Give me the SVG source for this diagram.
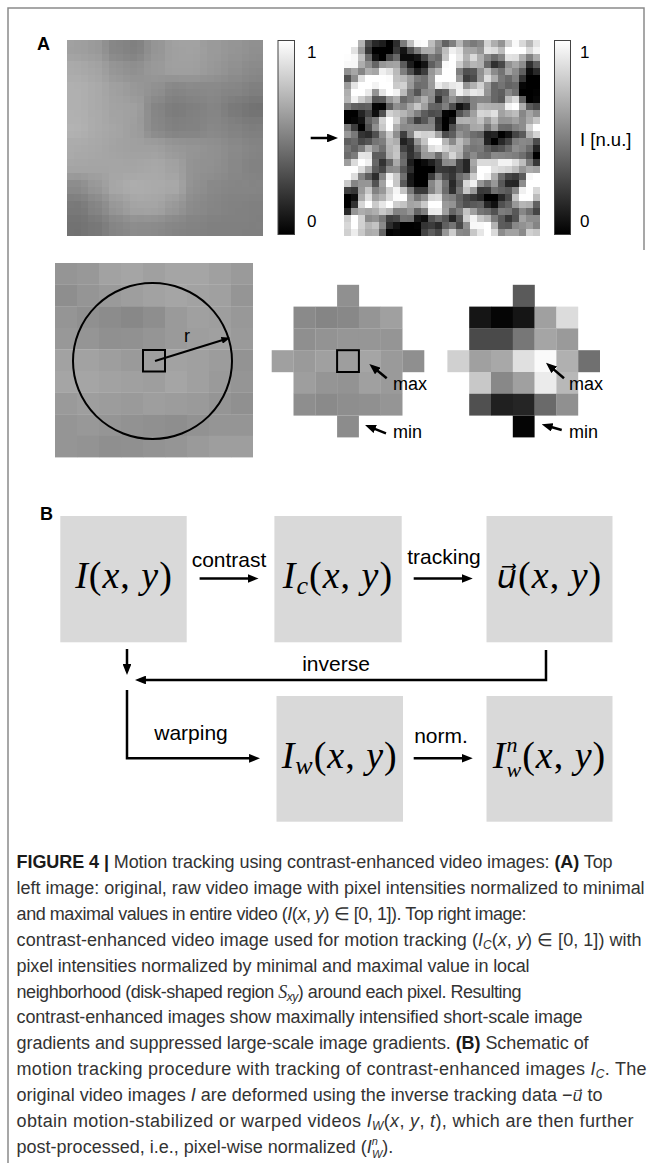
<svg xmlns="http://www.w3.org/2000/svg" width="652" height="1163" viewBox="0 0 652 1163">
<style>
.sans{font-family:"Liberation Sans",Arial,sans-serif;fill:#000}
.pl{font-weight:bold;font-size:18px}
.tick{font-size:17px}
.ann{font-size:18px}
.edge{font-size:21px}
.m{font-family:"Liberation Serif","Times New Roman",serif;font-size:38px;letter-spacing:1px;fill:#000}
.i{font-style:italic}
.box{fill:#d9d9d9}
.ln{fill:none;stroke:#000;stroke-width:2.5}
.thin{fill:none;stroke:#000;stroke-width:2}
.cap{font-family:"Liberation Sans",Arial,sans-serif;font-size:18px;fill:#333}
.b{font-weight:bold;fill:#1a1a1a}
.cb{stroke:#444;stroke-width:1}
.frame{stroke:#8a8a8a;stroke-width:1.5;fill:none}
</style>
<defs>
<linearGradient id="gbar" x1="0" y1="0" x2="0" y2="1">
<stop offset="0" stop-color="#fff"/><stop offset="1" stop-color="#000"/>
</linearGradient>
<marker id="ah" viewBox="0 0 10 8" refX="6" refY="4" markerWidth="4.4" markerHeight="3.5" orient="auto" markerUnits="strokeWidth">
<path d="M0,0 L10,4 L0,8 z" fill="#000"/>
</marker>
<filter id="pxL" x="0" y="0" width="196" height="196" filterUnits="userSpaceOnUse" color-interpolation-filters="sRGB">
<feGaussianBlur in="SourceGraphic" stdDeviation="5" result="b"/>
<feComponentTransfer in="b" result="c"><feFuncA type="linear" slope="0" intercept="1"/></feComponentTransfer>
<feFlood x="3" y="3" width="1" height="1" flood-color="#000"/>
<feComposite width="7" height="7"/>
<feTile result="t"/>
<feComposite in="c" in2="t" operator="in"/>
<feMorphology operator="dilate" radius="3"/>
</filter>
<filter id="pxR" x="0" y="0" width="196" height="196" filterUnits="userSpaceOnUse" color-interpolation-filters="sRGB">
<feTurbulence type="fractalNoise" baseFrequency="0.034" numOctaves="2" seed="11"/>
<feColorMatrix type="matrix" values="2.6 0 0 0 -0.78  2.6 0 0 0 -0.78  2.6 0 0 0 -0.78  0 0 0 0 1" result="c"/>
<feFlood x="3" y="3" width="1" height="1" flood-color="#000"/>
<feComposite width="7" height="7"/>
<feTile result="t"/>
<feComposite in="c" in2="t" operator="in"/>
<feMorphology operator="dilate" radius="3"/>
</filter>
</defs>
<rect width="652" height="1163" fill="#fff"/>
<path class="frame" d="M8,1163 V8 H644 V250"/>

<g id="panelA-label"><text class="sans pl" x="37" y="50">A</text></g>

<g id="raw-image" transform="translate(67,40)">
<g filter="url(#pxL)">
<g><rect x="0" y="0" width="20" height="20" fill="#a0a0a0"/><rect x="19.6" y="0" width="20" height="20" fill="#9a9a9a"/><rect x="39.2" y="0" width="20" height="20" fill="#858585"/><rect x="58.8" y="0" width="20" height="20" fill="#808080"/><rect x="78.4" y="0" width="20" height="20" fill="#959595"/><rect x="98" y="0" width="20" height="20" fill="#a0a0a0"/><rect x="117.6" y="0" width="20" height="20" fill="#a2a2a2"/><rect x="137.2" y="0" width="20" height="20" fill="#9a9a9a"/><rect x="156.8" y="0" width="20" height="20" fill="#959595"/><rect x="176.4" y="0" width="20" height="20" fill="#909090"/></g>
<g><rect x="0" y="19.6" width="20" height="20" fill="#aaaaaa"/><rect x="19.6" y="19.6" width="20" height="20" fill="#a5a5a5"/><rect x="39.2" y="19.6" width="20" height="20" fill="#959595"/><rect x="58.8" y="19.6" width="20" height="20" fill="#909090"/><rect x="78.4" y="19.6" width="20" height="20" fill="#9a9a9a"/><rect x="98" y="19.6" width="20" height="20" fill="#a0a0a0"/><rect x="117.6" y="19.6" width="20" height="20" fill="#a0a0a0"/><rect x="137.2" y="19.6" width="20" height="20" fill="#989898"/><rect x="156.8" y="19.6" width="20" height="20" fill="#909090"/><rect x="176.4" y="19.6" width="20" height="20" fill="#8a8a8a"/></g>
<g><rect x="0" y="39.2" width="20" height="20" fill="#b0b0b0"/><rect x="19.6" y="39.2" width="20" height="20" fill="#aaaaaa"/><rect x="39.2" y="39.2" width="20" height="20" fill="#a0a0a0"/><rect x="58.8" y="39.2" width="20" height="20" fill="#989898"/><rect x="78.4" y="39.2" width="20" height="20" fill="#909090"/><rect x="98" y="39.2" width="20" height="20" fill="#858585"/><rect x="117.6" y="39.2" width="20" height="20" fill="#888888"/><rect x="137.2" y="39.2" width="20" height="20" fill="#888888"/><rect x="156.8" y="39.2" width="20" height="20" fill="#858585"/><rect x="176.4" y="39.2" width="20" height="20" fill="#808080"/></g>
<g><rect x="0" y="58.8" width="20" height="20" fill="#b0b0b0"/><rect x="19.6" y="58.8" width="20" height="20" fill="#aaaaaa"/><rect x="39.2" y="58.8" width="20" height="20" fill="#a2a2a2"/><rect x="58.8" y="58.8" width="20" height="20" fill="#a0a0a0"/><rect x="78.4" y="58.8" width="20" height="20" fill="#858585"/><rect x="98" y="58.8" width="20" height="20" fill="#7c7c7c"/><rect x="117.6" y="58.8" width="20" height="20" fill="#808080"/><rect x="137.2" y="58.8" width="20" height="20" fill="#858585"/><rect x="156.8" y="58.8" width="20" height="20" fill="#7a7a7a"/><rect x="176.4" y="58.8" width="20" height="20" fill="#727272"/></g>
<g><rect x="0" y="78.4" width="20" height="20" fill="#b2b2b2"/><rect x="19.6" y="78.4" width="20" height="20" fill="#ababab"/><rect x="39.2" y="78.4" width="20" height="20" fill="#a5a5a5"/><rect x="58.8" y="78.4" width="20" height="20" fill="#9e9e9e"/><rect x="78.4" y="78.4" width="20" height="20" fill="#888888"/><rect x="98" y="78.4" width="20" height="20" fill="#808080"/><rect x="117.6" y="78.4" width="20" height="20" fill="#828282"/><rect x="137.2" y="78.4" width="20" height="20" fill="#888888"/><rect x="156.8" y="78.4" width="20" height="20" fill="#828282"/><rect x="176.4" y="78.4" width="20" height="20" fill="#7e7e7e"/></g>
<g><rect x="0" y="98" width="20" height="20" fill="#aaaaaa"/><rect x="19.6" y="98" width="20" height="20" fill="#a8a8a8"/><rect x="39.2" y="98" width="20" height="20" fill="#a2a2a2"/><rect x="58.8" y="98" width="20" height="20" fill="#a0a0a0"/><rect x="78.4" y="98" width="20" height="20" fill="#a0a0a0"/><rect x="98" y="98" width="20" height="20" fill="#989898"/><rect x="117.6" y="98" width="20" height="20" fill="#959595"/><rect x="137.2" y="98" width="20" height="20" fill="#909090"/><rect x="156.8" y="98" width="20" height="20" fill="#8a8a8a"/><rect x="176.4" y="98" width="20" height="20" fill="#858585"/></g>
<g><rect x="0" y="117.6" width="20" height="20" fill="#a5a5a5"/><rect x="19.6" y="117.6" width="20" height="20" fill="#a5a5a5"/><rect x="39.2" y="117.6" width="20" height="20" fill="#a5a5a5"/><rect x="58.8" y="117.6" width="20" height="20" fill="#a5a5a5"/><rect x="78.4" y="117.6" width="20" height="20" fill="#a8a8a8"/><rect x="98" y="117.6" width="20" height="20" fill="#a2a2a2"/><rect x="117.6" y="117.6" width="20" height="20" fill="#929292"/><rect x="137.2" y="117.6" width="20" height="20" fill="#909090"/><rect x="156.8" y="117.6" width="20" height="20" fill="#888888"/><rect x="176.4" y="117.6" width="20" height="20" fill="#828282"/></g>
<g><rect x="0" y="137.2" width="20" height="20" fill="#8a8a8a"/><rect x="19.6" y="137.2" width="20" height="20" fill="#989898"/><rect x="39.2" y="137.2" width="20" height="20" fill="#a8a8a8"/><rect x="58.8" y="137.2" width="20" height="20" fill="#adadad"/><rect x="78.4" y="137.2" width="20" height="20" fill="#aaaaaa"/><rect x="98" y="137.2" width="20" height="20" fill="#a8a8a8"/><rect x="117.6" y="137.2" width="20" height="20" fill="#909090"/><rect x="137.2" y="137.2" width="20" height="20" fill="#888888"/><rect x="156.8" y="137.2" width="20" height="20" fill="#858585"/><rect x="176.4" y="137.2" width="20" height="20" fill="#858585"/></g>
<g><rect x="0" y="156.8" width="20" height="20" fill="#787878"/><rect x="19.6" y="156.8" width="20" height="20" fill="#858585"/><rect x="39.2" y="156.8" width="20" height="20" fill="#989898"/><rect x="58.8" y="156.8" width="20" height="20" fill="#a5a5a5"/><rect x="78.4" y="156.8" width="20" height="20" fill="#a5a5a5"/><rect x="98" y="156.8" width="20" height="20" fill="#989898"/><rect x="117.6" y="156.8" width="20" height="20" fill="#8a8a8a"/><rect x="137.2" y="156.8" width="20" height="20" fill="#858585"/><rect x="156.8" y="156.8" width="20" height="20" fill="#828282"/><rect x="176.4" y="156.8" width="20" height="20" fill="#808080"/></g>
<g><rect x="0" y="176.4" width="20" height="20" fill="#727272"/><rect x="19.6" y="176.4" width="20" height="20" fill="#787878"/><rect x="39.2" y="176.4" width="20" height="20" fill="#858585"/><rect x="58.8" y="176.4" width="20" height="20" fill="#8c8c8c"/><rect x="78.4" y="176.4" width="20" height="20" fill="#8a8a8a"/><rect x="98" y="176.4" width="20" height="20" fill="#858585"/><rect x="117.6" y="176.4" width="20" height="20" fill="#828282"/><rect x="137.2" y="176.4" width="20" height="20" fill="#808080"/><rect x="156.8" y="176.4" width="20" height="20" fill="#808080"/><rect x="176.4" y="176.4" width="20" height="20" fill="#808080"/></g>
</g>
</g>

<g id="colorbar-left">
<rect class="cb" x="278" y="40.5" width="16.5" height="194" fill="url(#gbar)"/>
<text class="sans tick" x="307" y="58">1</text>
<text class="sans tick" x="307" y="227">0</text>
</g>

<g id="contrast-arrow">
<path class="ln" d="M310.7,138 H333.6" marker-end="url(#ah)"/>
</g>

<g id="enhanced-image" transform="translate(344,40)">
<rect x="0" y="0" width="196" height="196" fill="#888" filter="url(#pxR)"/>
</g>

<g id="colorbar-right">
<rect class="cb" x="554.5" y="40.5" width="16" height="194" fill="url(#gbar)"/>
<text class="sans tick" x="580" y="58">1</text>
<text class="sans tick" x="580" y="227">0</text>
<text class="sans" font-size="18.5" x="580" y="146">I [n.u.]</text>
</g>

<g id="disk-grid">
<g>
<rect x="55" y="263" width="22.2" height="21.8" fill="#959595"/><rect x="77" y="263" width="22.2" height="21.8" fill="#989898"/><rect x="99" y="263" width="22.2" height="21.8" fill="#a2a2a2"/><rect x="121" y="263" width="22.2" height="21.8" fill="#a5a5a5"/><rect x="143" y="263" width="22.2" height="21.8" fill="#a0a0a0"/><rect x="165" y="263" width="22.2" height="21.8" fill="#a5a5a5"/><rect x="187" y="263" width="22.2" height="21.8" fill="#a5a5a5"/><rect x="209" y="263" width="22.2" height="21.8" fill="#a0a0a0"/><rect x="231" y="263" width="22" height="21.8" fill="#9a9a9a"/>
<rect x="55" y="284.6" width="22.2" height="21.8" fill="#8e8e8e"/><rect x="77" y="284.6" width="22.2" height="21.8" fill="#959595"/><rect x="99" y="284.6" width="22.2" height="21.8" fill="#9a9a9a"/><rect x="121" y="284.6" width="22.2" height="21.8" fill="#9e9e9e"/><rect x="143" y="284.6" width="22.2" height="21.8" fill="#a2a2a2"/><rect x="165" y="284.6" width="22.2" height="21.8" fill="#a5a5a5"/><rect x="187" y="284.6" width="22.2" height="21.8" fill="#a2a2a2"/><rect x="209" y="284.6" width="22.2" height="21.8" fill="#a0a0a0"/><rect x="231" y="284.6" width="22" height="21.8" fill="#959595"/>
<rect x="55" y="306.2" width="22.2" height="21.8" fill="#959595"/><rect x="77" y="306.2" width="22.2" height="21.8" fill="#909090"/><rect x="99" y="306.2" width="22.2" height="21.8" fill="#8c8c8c"/><rect x="121" y="306.2" width="22.2" height="21.8" fill="#888888"/><rect x="143" y="306.2" width="22.2" height="21.8" fill="#8e8e8e"/><rect x="165" y="306.2" width="22.2" height="21.8" fill="#9a9a9a"/><rect x="187" y="306.2" width="22.2" height="21.8" fill="#a0a0a0"/><rect x="209" y="306.2" width="22.2" height="21.8" fill="#9e9e9e"/><rect x="231" y="306.2" width="22" height="21.8" fill="#989898"/>
<rect x="55" y="327.8" width="22.2" height="21.8" fill="#989898"/><rect x="77" y="327.8" width="22.2" height="21.8" fill="#959595"/><rect x="99" y="327.8" width="22.2" height="21.8" fill="#909090"/><rect x="121" y="327.8" width="22.2" height="21.8" fill="#919191"/><rect x="143" y="327.8" width="22.2" height="21.8" fill="#959595"/><rect x="165" y="327.8" width="22.2" height="21.8" fill="#9a9a9a"/><rect x="187" y="327.8" width="22.2" height="21.8" fill="#9e9e9e"/><rect x="209" y="327.8" width="22.2" height="21.8" fill="#a0a0a0"/><rect x="231" y="327.8" width="22" height="21.8" fill="#9a9a9a"/>
<rect x="55" y="349.4" width="22.2" height="21.8" fill="#a2a2a2"/><rect x="77" y="349.4" width="22.2" height="21.8" fill="#a2a2a2"/><rect x="99" y="349.4" width="22.2" height="21.8" fill="#9e9e9e"/><rect x="121" y="349.4" width="22.2" height="21.8" fill="#9a9a9a"/><rect x="143" y="349.4" width="22.2" height="21.8" fill="#9e9e9e"/><rect x="165" y="349.4" width="22.2" height="21.8" fill="#a2a2a2"/><rect x="187" y="349.4" width="22.2" height="21.8" fill="#a0a0a0"/><rect x="209" y="349.4" width="22.2" height="21.8" fill="#9c9c9c"/><rect x="231" y="349.4" width="22" height="21.8" fill="#939393"/>
<rect x="55" y="371" width="22.2" height="21.8" fill="#a5a5a5"/><rect x="77" y="371" width="22.2" height="21.8" fill="#a5a5a5"/><rect x="99" y="371" width="22.2" height="21.8" fill="#a2a2a2"/><rect x="121" y="371" width="22.2" height="21.8" fill="#a0a0a0"/><rect x="143" y="371" width="22.2" height="21.8" fill="#9e9e9e"/><rect x="165" y="371" width="22.2" height="21.8" fill="#a5a5a5"/><rect x="187" y="371" width="22.2" height="21.8" fill="#a0a0a0"/><rect x="209" y="371" width="22.2" height="21.8" fill="#9a9a9a"/><rect x="231" y="371" width="22" height="21.8" fill="#959595"/>
<rect x="55" y="392.6" width="22.2" height="21.8" fill="#9a9a9a"/><rect x="77" y="392.6" width="22.2" height="21.8" fill="#9e9e9e"/><rect x="99" y="392.6" width="22.2" height="21.8" fill="#9c9c9c"/><rect x="121" y="392.6" width="22.2" height="21.8" fill="#9a9a9a"/><rect x="143" y="392.6" width="22.2" height="21.8" fill="#9e9e9e"/><rect x="165" y="392.6" width="22.2" height="21.8" fill="#9c9c9c"/><rect x="187" y="392.6" width="22.2" height="21.8" fill="#9a9a9a"/><rect x="209" y="392.6" width="22.2" height="21.8" fill="#959595"/><rect x="231" y="392.6" width="22" height="21.8" fill="#909090"/>
<rect x="55" y="414.2" width="22.2" height="21.8" fill="#959595"/><rect x="77" y="414.2" width="22.2" height="21.8" fill="#989898"/><rect x="99" y="414.2" width="22.2" height="21.8" fill="#959595"/><rect x="121" y="414.2" width="22.2" height="21.8" fill="#929292"/><rect x="143" y="414.2" width="22.2" height="21.8" fill="#909090"/><rect x="165" y="414.2" width="22.2" height="21.8" fill="#8e8e8e"/><rect x="187" y="414.2" width="22.2" height="21.8" fill="#929292"/><rect x="209" y="414.2" width="22.2" height="21.8" fill="#959595"/><rect x="231" y="414.2" width="22" height="21.8" fill="#959595"/>
<rect x="55" y="435.8" width="22.2" height="21.6" fill="#959595"/><rect x="77" y="435.8" width="22.2" height="21.6" fill="#939393"/><rect x="99" y="435.8" width="22.2" height="21.6" fill="#8f8f8f"/><rect x="121" y="435.8" width="22.2" height="21.6" fill="#909090"/><rect x="143" y="435.8" width="22.2" height="21.6" fill="#939393"/><rect x="165" y="435.8" width="22.2" height="21.6" fill="#959595"/><rect x="187" y="435.8" width="22.2" height="21.6" fill="#9a9a9a"/><rect x="209" y="435.8" width="22.2" height="21.6" fill="#9e9e9e"/><rect x="231" y="435.8" width="22" height="21.6" fill="#9e9e9e"/>
</g>
<ellipse class="thin" cx="152.5" cy="361" rx="79.5" ry="78"/>
<rect class="thin" x="143" y="350" width="22" height="21.5"/>
<path class="thin" d="M155,361 L226.8,338.8" marker-end="url(#ah)"/>
<text class="sans ann" x="184" y="342">r</text>
</g>

<g id="neigh-raw">
<rect x="337.1" y="284.8" width="22" height="22" fill="#909090"/>
<rect x="293.5" y="306.6" width="22" height="22" fill="#8a8a8a"/><rect x="315.3" y="306.6" width="22" height="22" fill="#858585"/><rect x="337.1" y="306.6" width="22" height="22" fill="#888888"/><rect x="358.9" y="306.6" width="22" height="22" fill="#959595"/><rect x="380.7" y="306.6" width="21.8" height="22" fill="#a0a0a0"/>
<rect x="293.5" y="328.4" width="22" height="22" fill="#8f8f8f"/><rect x="315.3" y="328.4" width="22" height="22" fill="#939393"/><rect x="337.1" y="328.4" width="22" height="22" fill="#969696"/><rect x="358.9" y="328.4" width="22" height="22" fill="#969696"/><rect x="380.7" y="328.4" width="21.8" height="22" fill="#959595"/>
<rect x="271.7" y="350.2" width="22" height="22" fill="#a0a0a0"/><rect x="293.5" y="350.2" width="22" height="22" fill="#9a9a9a"/><rect x="315.3" y="350.2" width="22" height="22" fill="#a0a0a0"/><rect x="337.1" y="350.2" width="22" height="22" fill="#9e9e9e"/><rect x="358.9" y="350.2" width="22" height="22" fill="#a5a5a5"/><rect x="380.7" y="350.2" width="22" height="22" fill="#9a9a9a"/><rect x="402.5" y="350.2" width="21.8" height="22" fill="#8f8f8f"/>
<rect x="293.5" y="372" width="22" height="22" fill="#9e9e9e"/><rect x="315.3" y="372" width="22" height="22" fill="#959595"/><rect x="337.1" y="372" width="22" height="22" fill="#939393"/><rect x="358.9" y="372" width="22" height="22" fill="#a0a0a0"/><rect x="380.7" y="372" width="21.8" height="22" fill="#9a9a9a"/>
<rect x="293.5" y="393.8" width="22" height="21.8" fill="#8e8e8e"/><rect x="315.3" y="393.8" width="22" height="21.8" fill="#8a8a8a"/><rect x="337.1" y="393.8" width="22" height="21.8" fill="#8e8e8e"/><rect x="358.9" y="393.8" width="22" height="21.8" fill="#909090"/><rect x="380.7" y="393.8" width="21.8" height="21.8" fill="#959595"/>
<rect x="337.1" y="415.6" width="21.8" height="21.8" fill="#8c8c8c"/>
<rect class="thin" x="337.1" y="350.2" width="21.8" height="21.8"/>
<path class="ln" d="M386.7,378.3 L372.7,366.8" marker-end="url(#ah)"/>
<path class="ln" d="M386,433.3 L369.1,426.6" marker-end="url(#ah)"/>
<text class="sans ann" x="393" y="390">max</text>
<text class="sans ann" x="393" y="438">min</text>
</g>

<g id="neigh-enhanced">
<rect x="512.8" y="284.8" width="22" height="22" fill="#5a5a5a"/>
<rect x="469.2" y="306.6" width="22" height="22" fill="#151515"/><rect x="491" y="306.6" width="22" height="22" fill="#050505"/><rect x="512.8" y="306.6" width="22" height="22" fill="#151515"/><rect x="534.6" y="306.6" width="22" height="22" fill="#a0a0a0"/><rect x="556.4" y="306.6" width="21.8" height="22" fill="#dcdcdc"/>
<rect x="469.2" y="328.4" width="22" height="22" fill="#4a4a4a"/><rect x="491" y="328.4" width="22" height="22" fill="#4a4a4a"/><rect x="512.8" y="328.4" width="22" height="22" fill="#777777"/><rect x="534.6" y="328.4" width="22" height="22" fill="#a5a5a5"/><rect x="556.4" y="328.4" width="21.8" height="22" fill="#9a9a9a"/>
<rect x="447.4" y="350.2" width="22" height="22" fill="#d0d0d0"/><rect x="469.2" y="350.2" width="22" height="22" fill="#a0a0a0"/><rect x="491" y="350.2" width="22" height="22" fill="#a8a8a8"/><rect x="512.8" y="350.2" width="22" height="22" fill="#e0e0e0"/><rect x="534.6" y="350.2" width="22" height="22" fill="#fafafa"/><rect x="556.4" y="350.2" width="22" height="22" fill="#b0b0b0"/><rect x="578.2" y="350.2" width="21.8" height="22" fill="#707070"/>
<rect x="469.2" y="372" width="22" height="22" fill="#c8c8c8"/><rect x="491" y="372" width="22" height="22" fill="#888888"/><rect x="512.8" y="372" width="22" height="22" fill="#a0a0a0"/><rect x="534.6" y="372" width="22" height="22" fill="#ebebeb"/><rect x="556.4" y="372" width="21.8" height="22" fill="#b8b8b8"/>
<rect x="469.2" y="393.8" width="22" height="21.8" fill="#505050"/><rect x="491" y="393.8" width="22" height="21.8" fill="#202020"/><rect x="512.8" y="393.8" width="22" height="21.8" fill="#252525"/><rect x="534.6" y="393.8" width="22" height="21.8" fill="#6a6a6a"/><rect x="556.4" y="393.8" width="21.8" height="21.8" fill="#909090"/>
<rect x="512.8" y="415.6" width="21.8" height="21.8" fill="#050505"/>
<path class="ln" d="M564,378.3 L549.3,365.6" marker-end="url(#ah)"/>
<path class="ln" d="M561.7,430 L545.9,425.5" marker-end="url(#ah)"/>
<text class="sans ann" x="569" y="390">max</text>
<text class="sans ann" x="569" y="438">min</text>
</g>

<g id="panelB-label"><text class="sans pl" x="40" y="520">B</text></g>

<g id="node-I">
<rect class="box" x="60.3" y="516" width="126.4" height="126.3"/>
<text class="m" x="124" y="588" text-anchor="middle"><tspan class="i">I</tspan>(<tspan class="i">x</tspan>, <tspan class="i">y</tspan>)</text>
</g>
<g id="node-Ic">
<rect class="box" x="274.4" y="516" width="127.3" height="126.3"/>
<text class="m" x="338" y="588" text-anchor="middle"><tspan class="i">I</tspan><tspan class="i" font-size="26" dy="6">c</tspan><tspan dy="-6">(</tspan><tspan class="i">x</tspan>, <tspan class="i">y</tspan>)</text>
</g>
<g id="node-u">
<rect class="box" x="486.5" y="516" width="126" height="126.3"/>
<text class="m" x="549.5" y="588" text-anchor="middle"><tspan class="i" font-family="DejaVu Sans,sans-serif" font-size="32">u⃗</tspan>(<tspan class="i">x</tspan>, <tspan class="i">y</tspan>)</text>
</g>
<g id="node-Iw">
<rect class="box" x="276.5" y="696" width="126.5" height="125.7"/>
<text class="m" x="339.7" y="768" text-anchor="middle"><tspan class="i">I</tspan><tspan class="i" font-size="26" dy="6">w</tspan><tspan dy="-6">(</tspan><tspan class="i">x</tspan>, <tspan class="i">y</tspan>)</text>
</g>
<g id="node-Inw">
<rect class="box" x="486.5" y="696" width="126" height="125.7"/>
<text class="m" x="549.5" y="768" text-anchor="middle"><tspan class="i">I</tspan><tspan class="i" font-size="22" dy="-16">n</tspan><tspan class="i" font-size="22" dx="-12" dy="25">w</tspan><tspan dy="-9">(</tspan><tspan class="i">x</tspan>, <tspan class="i">y</tspan>)</text>
</g>

<g id="connectors">
<path class="ln" d="M199.6,578.5 H254.2" marker-end="url(#ah)"/>
<path class="ln" d="M413.7,578.5 H468.4" marker-end="url(#ah)"/>
<path class="ln" d="M127,649 V670.6" marker-end="url(#ah)"/>
<path class="ln" d="M546,650 V680 H139.4" marker-end="url(#ah)"/>
<path class="ln" d="M127,690 V758.3 H255.6" marker-end="url(#ah)"/>
<path class="ln" d="M413.7,758.3 H468.4" marker-end="url(#ah)"/>
<text class="sans edge" x="229" y="567" text-anchor="middle">contrast</text>
<text class="sans edge" x="444" y="564" text-anchor="middle">tracking</text>
<text class="sans edge" x="336" y="671" text-anchor="middle">inverse</text>
<text class="sans edge" x="191" y="740" text-anchor="middle">warping</text>
<text class="sans edge" x="441" y="743" text-anchor="middle">norm.</text>
</g>

<g id="caption">
<text class="cap" x="16.6" y="868" textLength="596"><tspan class="b">FIGURE 4 |</tspan> Motion tracking using contrast-enhanced video images: <tspan class="b">(A)</tspan> Top</text>
<text class="cap" x="16.6" y="893.9" textLength="628">left image: original, raw video image with pixel intensities normalized to minimal</text>
<text class="cap" x="16.6" y="919.8" textLength="510">and maximal values in entire video (<tspan class="i">I</tspan>(<tspan class="i">x</tspan>, <tspan class="i">y</tspan>) ∈ [0, 1]). Top right image:</text>
<text class="cap" x="16.6" y="945.7" textLength="625">contrast-enhanced video image used for motion tracking (<tspan class="i">I</tspan><tspan class="i" font-size="12" dy="3">C</tspan><tspan dy="-3">(</tspan><tspan class="i">x</tspan>, <tspan class="i">y</tspan>) ∈ [0, 1]) with</text>
<text class="cap" x="16.6" y="971.6" textLength="513">pixel intensities normalized by minimal and maximal value in local</text>
<text class="cap" x="16.6" y="997.5" textLength="505">neighborhood (disk-shaped region <tspan class="i" font-family="Liberation Serif,serif">S</tspan><tspan class="i" font-size="12" dy="3">xy</tspan><tspan dy="-3">) around each pixel. Resulting</tspan></text>
<text class="cap" x="16.6" y="1023.4" textLength="566">contrast-enhanced images show maximally intensified short-scale image</text>
<text class="cap" x="16.6" y="1049.3" textLength="572">gradients and suppressed large-scale image gradients. <tspan class="b">(B)</tspan> Schematic of</text>
<text class="cap" x="16.6" y="1075.2" textLength="630">motion tracking procedure with tracking of contrast-enhanced images <tspan class="i">I</tspan><tspan class="i" font-size="12" dy="3">C</tspan><tspan dy="-3">. The</tspan></text>
<text class="cap" x="16.6" y="1101.1">original video images <tspan class="i">I</tspan> are deformed using the inverse tracking data −<tspan class="i" font-family="DejaVu Sans,sans-serif" font-size="16">u⃗</tspan> to</text>
<text class="cap" x="16.6" y="1127" textLength="617">obtain motion-stabilized or warped videos <tspan class="i">I</tspan><tspan class="i" font-size="12" dy="3">W</tspan><tspan dy="-3">(</tspan><tspan class="i">x</tspan>, <tspan class="i">y</tspan>, <tspan class="i">t</tspan>), which are then further</text>
<text class="cap" x="16.6" y="1152.9">post-processed, i.e., pixel-wise normalized (<tspan class="i">I</tspan><tspan class="i" font-size="11" dy="-8">n</tspan><tspan class="i" font-size="11" dx="-6" dy="13">W</tspan><tspan dy="-5">).</tspan></text>
</g>
</svg>
